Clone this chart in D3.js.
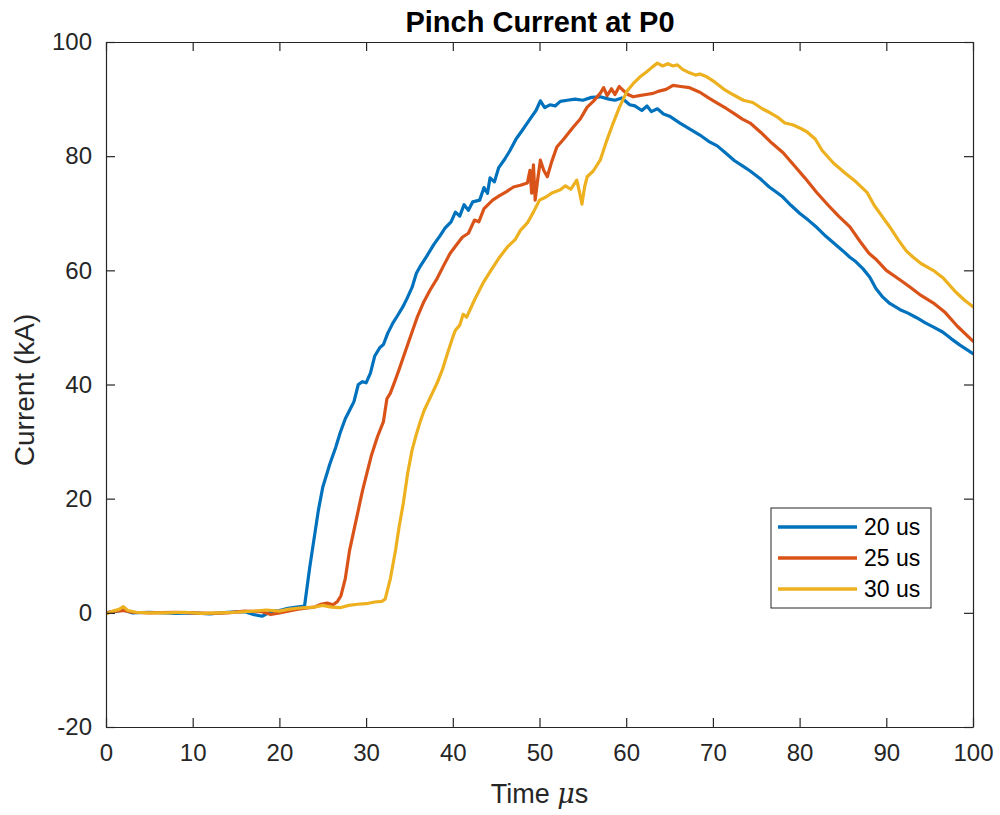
<!DOCTYPE html>
<html>
<head>
<meta charset="utf-8">
<script src="https://cdn.jsdelivr.net/npm/d3@7"></script>
<style>
  html, body { margin: 0; padding: 0; background: #fff; }
  svg { display: block; font-family: "Liberation Sans", Arial, Helvetica, sans-serif; }
</style>
</head>
<body>
<svg id="chart" width="1000" height="815"></svg>
<script>
// Pinch current traces at probe P0 for three delay settings (time in µs, current in kA)
const seriesNames = ["20 us", "25 us", "30 us"];
const seriesColors = ["#0072BD", "#D95319", "#EDB120"];

const time20 = [0,1,2,3,5,8,10,12,14,16,17,18,19,20,21,22,22.9,23.5,24,24.5,25,25.8,26.5,27,27.6,28.1,28.6,29.1,29.6,30,30.5,31,31.6,32,32.5,33.1,33.6,34.2,34.7,35.3,35.8,36.2,37,37.8,38.5,39.1,39.8,40.3,40.8,41.3,41.8,42.3,43.1,43.6,44,44.3,44.8,45.3,46,46.6,47.3,48,48.9,49.6,50.1,50.6,51.2,51.8,52.4,53.2,54.1,55,56,57,58,58.7,59.5,60.4,61,61.8,62.4,62.9,63.6,64.3,65,66.2,67.3,68.5,69.5,70.5,71.5,72.5,73.5,74.3,75.5,76.5,77.5,78.1,79,80,81,82,83,84,85,85.8,86.5,87.3,88.1,88.8,89.6,90.4,91.6,92.5,93.5,94.5,95.4,96.5,97.5,98.5,100];
const current20 = [0,0.2,0.5,0,0.1,-0.1,0,-0.2,0.1,0.2,-0.3,-0.6,0.2,0.4,0.8,1.0,1.2,8,13,18,22,26,29,31.5,34,35.5,37,40,40.5,40.3,42,45,46.5,47,49,50.8,52,53.5,55,57,59.5,60.6,62.5,64.5,66,67.4,68.5,70.2,69.5,71.5,70.5,72,72.3,74.5,73.5,76.2,75.5,78,79.5,81,83,84.5,86.5,88,89.7,88.5,89,88.8,89.6,89.8,90,89.8,90.3,90.4,90,89.8,90.2,89,88.8,88,88.8,87.8,88.3,87.4,87,85.8,84.8,83.7,82.6,81.8,80.5,79.2,78.2,77.4,76,74.6,73.5,72.8,71.4,70,68.8,67.5,66,64.7,63.4,62.3,61.5,60.3,58.8,56.8,55.3,54.2,53.1,52.5,51.7,50.8,50.1,49.2,48,46.9,45.4];

const time25 = [0,1,2,3,5,8,10,12,14,16,18,19,20,21,22,23,24,24.8,25.5,26.2,26.7,27.1,27.6,28.1,28.6,29.1,29.6,30.1,30.6,31.3,32,32.4,32.8,33.3,33.8,34.3,34.8,35.3,35.9,36.6,37.4,38.2,39,39.7,40.5,41.1,41.8,42.5,43,43.6,44.6,45.3,46.2,47,47.8,48.6,48.9,49.1,49.3,49.5,49.8,50.1,50.5,50.9,51.4,52,52.8,53.9,54.7,55.5,56.2,57,57.4,57.8,58.3,58.7,59.2,59.6,60.2,60.8,61.5,62.3,63.1,63.8,64.6,65.4,66.3,67.3,68.5,69.5,70.5,71.5,72.5,73.4,74.3,75.5,76.8,78.1,79.3,80.6,82,83.3,84.5,85.8,87,88,88.9,90,91.6,92.8,94,95.4,96.8,98.2,100];
const current25 = [0,0.3,0.4,0.1,0,0.1,0,-0.1,0,0.3,0.2,-0.3,0,0.3,0.6,0.8,1.0,1.5,1.7,1.4,2.0,3.0,6,11,14.5,18,21.5,24.5,27.5,30.8,33.5,37.5,38.5,40.5,42.6,44.8,47,49.2,51.8,54.3,56.6,58.6,61,63,64.6,65.8,66.5,68.8,68.5,70.8,72.3,73,73.8,74.6,74.9,75.3,77.5,73.5,78.5,72.3,76,79.3,77.5,76.4,79,81.6,83,85.1,86.5,88.6,89.6,91,92,90.6,91.8,90.8,92.2,91.6,90.8,90.4,90.6,90.8,91,91.4,91.7,92.4,92.2,92,91.2,90.2,89.3,88.4,87.4,86.5,85.8,84.2,82.3,80.6,78.5,76.2,73.6,71.4,69.5,67.6,65,63,61.8,60,58.3,57,55.6,54.3,52.6,50.2,47.6];

const time30 = [0,0.8,1.5,2,2.5,3.5,5,7,9,11,13,15,17,18.5,20,21,22,23,24,25,26,27,28,29,30,31,31.8,32.2,32.8,33.4,33.8,34.3,34.8,35.3,35.8,36.2,36.7,37.3,38.2,38.8,39.4,40,40.3,40.8,41.2,41.6,42.5,43.5,44.4,45.4,46.3,47.2,47.8,48.6,49.3,50,50.7,51.5,52.4,53,53.6,54.3,54.6,54.9,55.2,55.5,56.2,57,57.7,58.5,59.2,60.1,60.8,61.6,62.3,63,63.6,64.2,64.8,65.4,65.9,66.5,67.3,68,68.5,69.3,70.2,71.2,72.3,73.5,74.6,75.7,76.6,77.4,78.3,79.2,80.2,80.9,81.8,82.6,83.9,85.2,86.5,87.8,88.6,89.5,90.4,91.4,92.3,93.1,94,95.4,96.6,98,99,100];
const current30 = [-0.2,0.3,0.6,1.1,0.4,0.1,0,0,0.1,-0.1,0,0.1,0.3,0.5,0.3,0.6,0.8,0.9,1.0,1.3,1.0,0.9,1.3,1.5,1.6,1.9,2.0,2.4,6,11,15,19.3,24.5,28.5,31.3,33.3,35.5,37.4,40.3,42.6,45.5,48.3,49.5,50.4,52.3,51.8,54.8,57.8,60,62.3,64.1,65.4,67,68.3,70.2,72.3,72.8,73.6,74.1,74.8,74.2,75.8,73.8,71.6,74.6,76.4,77.4,79.3,82.5,85.8,88.5,91.4,92.7,93.9,94.7,95.6,96.3,95.8,96.2,95.8,96,95.2,94.6,94.2,94.4,93.9,93,91.8,90.8,89.8,89.4,88.3,87.6,86.9,85.8,85.5,84.8,84.2,83,81,78.8,77.1,75.5,73.6,71.4,69.5,67.6,65.3,63.4,62.3,61.2,60,58.6,56.2,54.8,53.6];

const xTicks = [0,10,20,30,40,50,60,70,80,90,100];
const yTicks = [-20,0,20,40,60,80,100];

const series = [
  { name: seriesNames[0], color: seriesColors[0], t: time20, v: current20 },
  { name: seriesNames[1], color: seriesColors[1], t: time25, v: current25 },
  { name: seriesNames[2], color: seriesColors[2], t: time30, v: current30 }
];

const svg = d3.select("#chart");
const margin = { left: 106, top: 42, right: 27, bottom: 88 };
const W = 1000, H = 815;
const plotW = W - margin.left - margin.right;
const plotH = H - margin.top - margin.bottom;
const axisColor = "#262626";

const x = d3.scaleLinear().domain([0, 100]).range([margin.left, margin.left + plotW]);
const y = d3.scaleLinear().domain([-20, 100]).range([margin.top + plotH, margin.top]);

// Curves, clipped to the axes box
svg.append("defs").append("clipPath").attr("id", "plotClip")
  .append("rect").attr("x", margin.left).attr("y", margin.top).attr("width", plotW).attr("height", plotH);

const line = d3.line().x(d => x(d[0])).y(d => y(d[1]));
const curves = svg.append("g").attr("clip-path", "url(#plotClip)");
series.forEach(s => {
  const pts = s.t.map((t, i) => [t, s.v[i]]);
  curves.append("path")
    .datum(pts)
    .attr("d", line)
    .attr("fill", "none")
    .attr("stroke", s.color)
    .attr("stroke-width", 3.2)
    .attr("stroke-linejoin", "round")
    .attr("stroke-linecap", "round");
});

// Axes: inward ticks on all four sides, labels on bottom and left
const tickLen = 9;
const fmt = d => String(d);   // plain hyphen for negatives
function styleAxis(g) {
  g.select(".domain").attr("stroke", axisColor).attr("stroke-width", 1.2);
  g.selectAll(".tick line").attr("stroke", axisColor).attr("stroke-width", 1.2);
  g.selectAll(".tick text").attr("fill", axisColor).attr("font-size", 24)
    .attr("font-family", "'Liberation Sans', Arial, sans-serif");
}

const xAxis = svg.append("g").attr("transform", `translate(0,${margin.top + plotH})`)
  .call(d3.axisBottom(x).tickValues(xTicks).tickFormat(fmt).tickSizeInner(-tickLen).tickSizeOuter(0).tickPadding(17));
styleAxis(xAxis);
xAxis.selectAll(".tick text").attr("dy", "0.71em");

const xAxisTop = svg.append("g").attr("transform", `translate(0,${margin.top})`)
  .call(d3.axisTop(x).tickValues(xTicks).tickFormat("").tickSizeInner(-tickLen).tickSizeOuter(0));
styleAxis(xAxisTop);

const yAxis = svg.append("g").attr("transform", `translate(${margin.left},0)`)
  .call(d3.axisLeft(y).tickValues(yTicks).tickFormat(fmt).tickSizeInner(-tickLen).tickSizeOuter(0).tickPadding(14));
styleAxis(yAxis);

const yAxisRight = svg.append("g").attr("transform", `translate(${margin.left + plotW},0)`)
  .call(d3.axisRight(y).tickValues(yTicks).tickFormat("").tickSizeInner(-tickLen).tickSizeOuter(0));
styleAxis(yAxisRight);

// Title
svg.append("text")
  .attr("x", 540).attr("y", 32)
  .attr("text-anchor", "middle")
  .attr("font-size", 29).attr("font-weight", "bold").attr("fill", "#000")
  .text("Pinch Current at P0");

// X label with italic mu
const xl = svg.append("text")
  .attr("x", margin.left + plotW / 2).attr("y", 803)
  .attr("text-anchor", "middle")
  .attr("font-size", 27).attr("fill", axisColor);
xl.append("tspan").text("Time ");
xl.append("tspan").attr("font-style", "italic").attr("font-family", "'DejaVu Serif', 'Liberation Serif', serif").text("\u03BC");
xl.append("tspan").text("s");

// Y label
svg.append("text")
  .attr("transform", `translate(34,390) rotate(-90)`)
  .attr("text-anchor", "middle")
  .attr("font-size", 28).attr("fill", axisColor)
  .text("Current (kA)");

// Legend
const lg = svg.append("g").attr("transform", "translate(771,508)");
lg.append("rect").attr("width", 160).attr("height", 100)
  .attr("fill", "#fff").attr("stroke", axisColor).attr("stroke-width", 1);
series.forEach((s, i) => {
  const yy = 19 + i * 31;
  lg.append("line").attr("x1", 7).attr("x2", 86).attr("y1", yy).attr("y2", yy)
    .attr("stroke", s.color).attr("stroke-width", 3.5);
  lg.append("text").attr("x", 93).attr("y", yy + 8)
    .attr("font-size", 23).attr("fill", "#000").text(s.name);
});
</script>
</body>
</html>
